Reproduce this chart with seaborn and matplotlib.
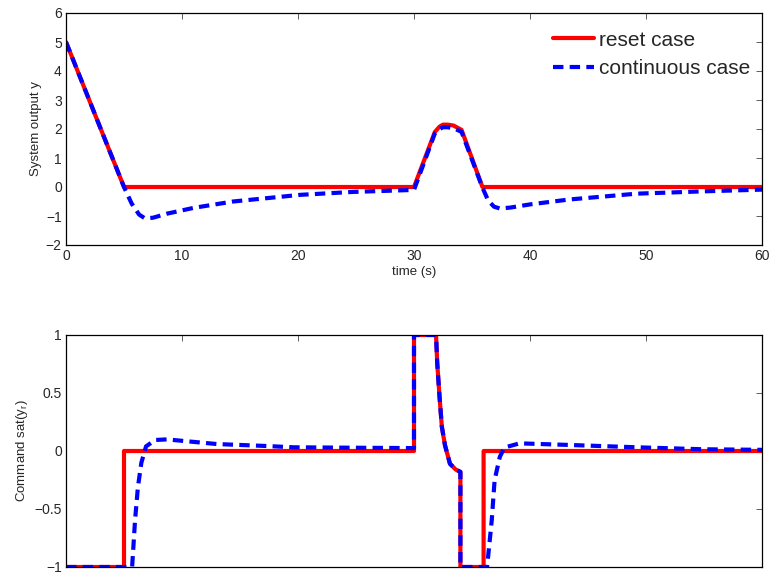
import matplotlib
matplotlib.use("Agg")
import matplotlib.pyplot as plt
import seaborn as sns
import pandas as pd

# ---- data ----
t_reset_y = [0, 5, 30, 31.8, 32.2, 32.5, 32.9, 33.4, 34.1, 35.9, 60]
reset_y = [5, 0, 0, 1.9, 2.08, 2.15, 2.15, 2.12, 1.97, 0, 0]

t_cont_y = [0, 5, 5.66, 6.3, 6.8, 7.5, 8.7, 11, 14.4, 20.2, 24.7, 30,
            31.8, 32.2, 32.5, 32.9, 33.4, 34.1, 35.9, 36.4, 36.9, 37.4, 38.3,
            40, 43.4, 49.2, 54.9, 60]
cont_y = [5, 0, -0.57, -0.95, -1.08, -1.06, -0.92, -0.72, -0.5, -0.27, -0.17, -0.1,
          1.85, 2.0, 2.06, 2.06, 2.03, 1.9, -0.02, -0.47, -0.68, -0.74, -0.71,
          -0.6, -0.43, -0.23, -0.15, -0.09]

t_reset_u = [0, 5, 5, 30, 30, 31.9, 32.0, 32.2, 32.4, 32.67, 33.1, 33.6, 34.0, 34.0,
             36.0, 36.0, 60]
reset_u = [-1, -1, 0, 0, 1, 1, 0.76, 0.47, 0.21, 0.05, -0.11, -0.16, -0.18, -1,
           -1, 0, 0]

t_cont_u = [0, 5.7, 5.95, 6.2, 6.5, 6.9, 7.7, 8.7, 13, 17.3, 19.6, 25, 30, 30,
            31.9, 32.0, 32.2, 32.4, 32.67, 33.1, 33.6, 34.0, 34.0,
            36.3, 36.7, 36.95, 37.4, 37.8, 39.1, 43.4, 49.2, 54.9, 60]
cont_u = [-1, -1, -0.6, -0.31, -0.1, 0.04, 0.095, 0.10, 0.06, 0.043, 0.032, 0.028, 0.025, 1,
          1, 0.76, 0.47, 0.21, 0.05, -0.11, -0.16, -0.18, -1,
          -1, -0.6, -0.25, -0.05, 0.03, 0.066, 0.052, 0.032, 0.015, 0.01]

labels = ["reset case", "continuous case"]

# ---- style ----
sns.set_style("white")
plt.rcParams["font.family"] = ["Liberation Sans", "DejaVu Sans"]
plt.rcParams["mathtext.fontset"] = "custom"
plt.rcParams["mathtext.rm"] = "Liberation Sans"
plt.rcParams["mathtext.it"] = "Liberation Sans"

fig = plt.figure(figsize=(7.71, 5.72), dpi=100)
ax1 = fig.add_axes([66 / 771, 1 - 245 / 572, 696 / 771, 232 / 572])
ax2 = fig.add_axes([66 / 771, 1 - 567 / 572, 696 / 771, 232 / 572])

dash = (0, (2.5, 1.5))
red = (1, 0, 0)
blue = (0, 0, 1)

df_ry = pd.DataFrame({"t": t_reset_y, "v": reset_y})
df_cy = pd.DataFrame({"t": t_cont_y, "v": cont_y})
df_ru = pd.DataFrame({"t": t_reset_u, "v": reset_u})
df_cu = pd.DataFrame({"t": t_cont_u, "v": cont_u})

sns.lineplot(data=df_ry, x="t", y="v", ax=ax1, color=red, lw=3, sort=False,
             estimator=None, label=labels[0])
sns.lineplot(data=df_cy, x="t", y="v", ax=ax1, color=blue, lw=3, sort=False,
             estimator=None, label=labels[1], linestyle=dash)
sns.lineplot(data=df_ru, x="t", y="v", ax=ax2, color=red, lw=3, sort=False,
             estimator=None, legend=False)
sns.lineplot(data=df_cu, x="t", y="v", ax=ax2, color=blue, lw=3, sort=False,
             estimator=None, legend=False, linestyle=dash)

for ax in (ax1, ax2):
    ax.set_xlim(0, 60)
    ax.set_xticks([0, 10, 20, 30, 40, 50, 60])
    ax.tick_params(direction="in", length=4, width=0.6, top=True, right=True,
                   labelsize=10, pad=3, color="#444444")
    for sp in ax.spines.values():
        sp.set_color("black")
        sp.set_linewidth(0.9)

ax1.set_xlabel("time (s)", fontsize=9.5, labelpad=2)
# the reference crops the bottom panel's x labels off the picture
ax2.set_xlabel("")
ax2.tick_params(axis="x", labelbottom=False)

ax1.set_ylim(-2, 6)
ax1.set_yticks(range(-2, 7))
ax1.set_yticklabels(["\u22122", "\u22121", "0", "1", "2", "3", "4", "5", "6"])
ax1.set_ylabel("System output y", fontsize=9.5, labelpad=3)

ax2.set_ylim(-1, 1)
ax2.set_yticks([-1, -0.5, 0, 0.5, 1])
ax2.set_yticklabels(["\u22121", "\u22120.5", "0", "0.5", "1"])
ax2.set_ylabel("Command sat(y$_r$)", fontsize=9.5, labelpad=3)

leg = ax1.legend(loc="upper right", bbox_to_anchor=(1.009, 1.0), frameon=False,
                 fontsize=15, handlelength=1.95, handletextpad=0.25,
                 labelspacing=0.45, borderaxespad=0.45)

fig.savefig("out.png", dpi=100)
